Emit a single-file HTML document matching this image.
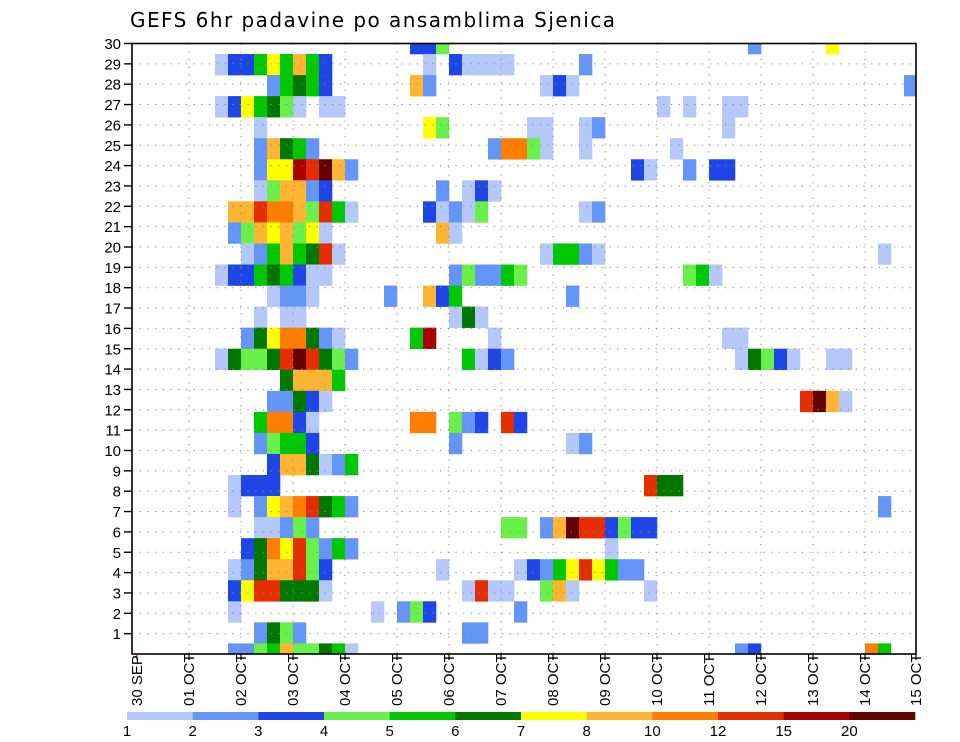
<!DOCTYPE html>
<html><head><meta charset="utf-8"><title>GEFS 6hr padavine po ansamblima Sjenica</title>
<style>
html,body{margin:0;padding:0;background:#fff;}
svg{display:block;font-family:"Liberation Sans","DejaVu Sans",sans-serif;}
</style></head>
<body>
<svg id="chart" width="960" height="742" viewBox="0 0 960 742" xmlns="http://www.w3.org/2000/svg">
<text x="130" y="27" font-family="DejaVu Sans, sans-serif" font-size="20" textLength="485" fill="#000">GEFS 6hr padavine po ansamblima Sjenica</text>
<defs><clipPath id="plotclip"><rect x="132" y="43.5" width="784" height="610.5"/></clipPath></defs>
<g id="cells" clip-path="url(#plotclip)"></g>
<g id="grid"></g>
<rect x="132" y="43.5" width="784" height="610.5" fill="none" stroke="#000" stroke-width="1.6"/>
<g id="yaxis"></g>
<g id="xaxis"></g>
<g id="legend"></g>
</svg>
<script>
// ---- data ----
const dayLabels = ["30 SEP","01 OCT","02 OCT","03 OCT","04 OCT","05 OCT","06 OCT","07 OCT","08 OCT","09 OCT","10 OCT","11 OCT","12 OCT","13 OCT","14 OCT","15 OCT"];
const memberTicks = [1,2,3,4,5,6,7,8,9,10,11,12,13,14,15,16,17,18,19,20,21,22,23,24,25,26,27,28,29,30];
const levels = [1,2,3,4,5,6,7,8,10,12,15,20];
const levelColors = ["#b4c8fa","#6496fa","#1e46e6","#6af04a","#00c800","#007800","#ffff00","#ffb432","#ff7d00","#e62d00","#aa0000","#640000"];
const codeValues = {a:1.5,b:2.5,c:3.5,d:4.5,e:5.5,f:6.5,g:7.5,h:9,i:11,j:13.5,k:17.5,l:25};
// each member row: list of [startStep, codes] ; '.' = no precipitation
const memberRows = [
 [[21,"ccd"],[47,"b"],[53,"g"]],
 [[6,"accegehec"],[22,"a.caaaa"],[34,"b"]],
 [[10,"befec"],[21,"hb"],[31,"aca"],[59,"b"]],
 [[6,"acgefda.aa"],[40,"a.a..aa"]],
 [[9,"a"],[22,"gd"],[30,"aa"],[34,"ab"],[45,"a"]],
 [[9,"bhfeb"],[27,"biida"],[34,"a"],[41,"a"]],
 [[9,"bggkjlhb"],[38,"ca..b.cc"]],
 [[9,"adhhbc"],[23,"b.aca"]],
 [[7,"hhjiihdjea"],[22,"cabad"],[34,"ab"]],
 [[7,"bdhghdga"],[23,"ha"]],
 [[8,"abehefja"],[31,"aeeba"],[57,"a"]],
 [[6,"accefecaa"],[24,"bdbbed"],[42,"dea"]],
 [[10,"abba"],[19,"b"],[22,"hce"],[33,"b"]],
 [[9,"a.aa"],[24,"afa"]],
 [[8,"bfgiifba"],[21,"ek"],[27,"a"],[45,"aa"]],
 [[6,"afddfjljfdb"],[25,"eacb"],[46,"afdca"],[53,"aa"]],
 [[11,"fhhhe"]],
 [[10,"bbfca"],[51,"jlha"]],
 [[9,"eiica"],[21,"ii.dbc.jc"]],
 [[9,"bdeec"],[24,"b"],[33,"ab"]],
 [[10,"chhfabe"]],
 [[7,"accc"],[39,"jff"]],
 [[7,"a.bghijfeb"],[57,"b"]],
 [[9,"aabdb"],[28,"dd.bhljjcdcc"]],
 [[8,"cfigjdbeb"],[36,"a"]],
 [[7,"abfhhjdc"],[23,"a"],[29,"acbegjgebb"]],
 [[7,"cgjjfffa"],[25,"ajaa"],[31,"dha"],[39,"a"]],
 [[7,"a"],[18,"a.bdc"],[29,"b"]],
 [[9,"bfdb"],[25,"bb"]],
 [[7,"bbdehddfea"],[46,"bc"],[56,"ie"]]
];
// ---- scales ----
const NS = "http://www.w3.org/2000/svg";
const X0 = 137, STEP = 13, DAY = 52;
function xStep(s){ return X0 + s*STEP; }
function xDay(d){ return X0 + d*DAY; }
function rowTop(r){ return 54 + 21.05*(r-1); }
function yTick(k){ return 654 - k*20.35; }
function colorFor(v){
  let idx = -1;
  for(let i=0;i<levels.length;i++){ if(v>=levels[i]) idx=i; }
  return idx<0 ? null : levelColors[idx];
}
function mk(tag, attrs, parent){
  const e = document.createElementNS(NS, tag);
  for(const k in attrs) e.setAttribute(k, attrs[k]);
  parent.appendChild(e); return e;
}
// ---- cells ----
const gCells = document.getElementById("cells");
memberRows.forEach((segs, r) => {
  segs.forEach(([start, codes]) => {
    for(let i=0;i<codes.length;i++){
      const ch = codes[i]; if(ch===".") continue;
      const v = codeValues[ch]; const col = colorFor(v); if(!col) continue;
      const rect = mk("rect", {x:xStep(start+i), y:rowTop(r), width:STEP+0.3, height:21.35, fill:col}, gCells);
      
      
    }
  });
});
// ---- grid ----
const gGrid = document.getElementById("grid");
memberTicks.forEach(k => {
  const ln = mk("line", {x1:132, x2:916, y1:yTick(k), y2:yTick(k), stroke:"#888", "stroke-width":1, "stroke-dasharray":"1.2,6.5"}, gGrid);
  
  
});
dayLabels.forEach((lab, d) => {
  if(d===0 || d===dayLabels.length-1) return;
  const ln = mk("line", {x1:xDay(d), x2:xDay(d), y1:43.5, y2:654, stroke:"#888", "stroke-width":1, "stroke-dasharray":"1.2,6.5"}, gGrid);
  
  
});
// ---- y axis ----
const gY = document.getElementById("yaxis");
memberTicks.forEach(k => {
  const t = mk("line", {x1:124, x2:132, y1:yTick(k), y2:yTick(k), stroke:"#000", "stroke-width":1.4}, gY);
  
  
  const tx = mk("text", {x:121, y:yTick(k)+5.5, "text-anchor":"end", "font-size":15, fill:"#000"}, gY);
  tx.textContent = k;
  
  
});
// ---- x axis ----
const gX = document.getElementById("xaxis");
dayLabels.forEach((lab, d) => {
  const x = Math.min(xDay(d), 916);
  const t = mk("line", {x1:x, x2:x, y1:654, y2:660, stroke: d===0 ? "#c00" : "#000", "stroke-width":1.2}, gX);
  
  
  const tx = mk("text", {x:0, y:0, "font-size":15, fill:"#000", transform:"translate("+(x+5)+",706) rotate(-90)"}, gX);
  tx.textContent = lab;
  
  
});
// ---- legend ----
const gL = document.getElementById("legend");
const LX0 = 127, LW = (915-127)/levels.length;
levels.forEach((lv, i) => {
  const r = mk("rect", {x:LX0+i*LW, y:712, width:LW+0.3, height:8, fill:levelColors[i]}, gL);
  
  
  const tx = mk("text", {x:LX0+i*LW, y:736, "text-anchor":"middle", "font-size":15, fill:"#000"}, gL);
  tx.textContent = lv;
  
  
});
</script>
</body></html>
